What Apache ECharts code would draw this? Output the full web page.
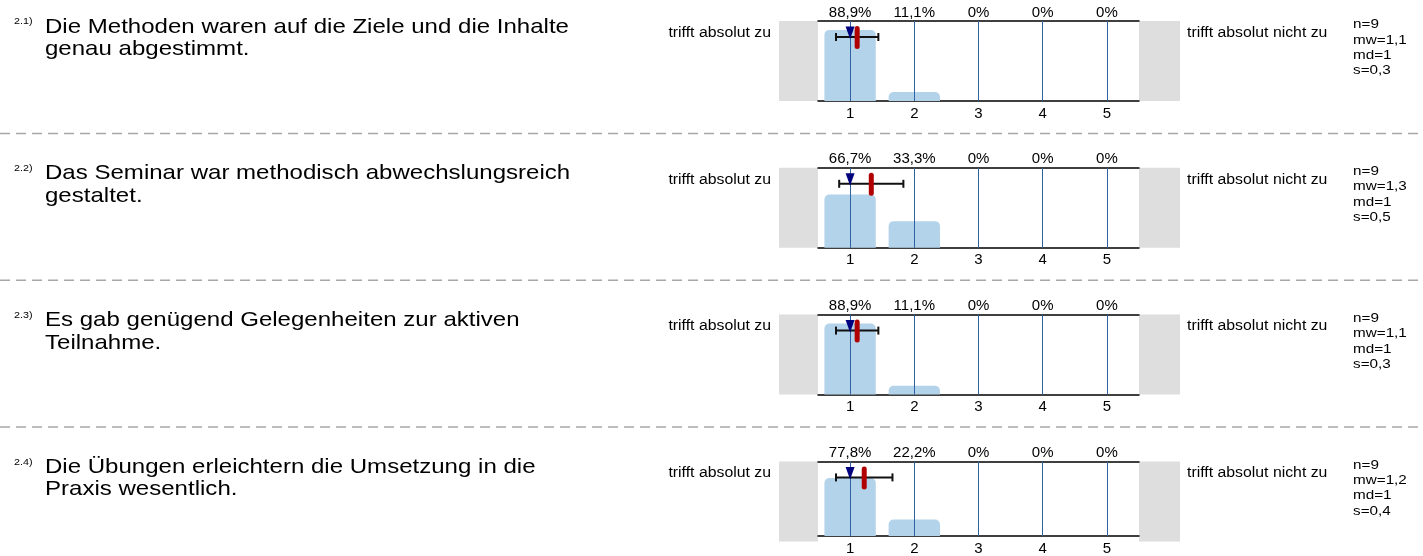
<!DOCTYPE html>
<html>
<head>
<meta charset="utf-8">
<title>Methoden</title>
<script src="https://cdn.jsdelivr.net/npm/echarts@6/dist/echarts.min.js"></script>
<style>
  html, body { margin: 0; padding: 0; background: #fff; }
  #chart { width: 1423px; height: 556px; }
</style>
</head>
<body>
<div id="chart"></div>
<script>
// --- data ---
var questionNumbers = ['2.1)', '2.2)', '2.3)', '2.4)'];
var questions = [
    'Die Methoden waren auf die Ziele und die Inhalte\ngenau abgestimmt.',
    'Das Seminar war methodisch abwechslungsreich\ngestaltet.',
    'Es gab genügend Gelegenheiten zur aktiven\nTeilnahme.',
    'Die Übungen erleichtern die Umsetzung in die\nPraxis wesentlich.'
];
var scaleCategories = ['1', '2', '3', '4', '5'];
var shares = [
    [88.9, 11.1, 0, 0, 0],
    [66.7, 33.3, 0, 0, 0],
    [88.9, 11.1, 0, 0, 0],
    [77.8, 22.2, 0, 0, 0]
];
var nValues = [9, 9, 9, 9];
var means = [1.11, 1.33, 1.11, 1.22];
var medians = [1, 1, 1, 1];
var sds = [0.33, 0.5, 0.33, 0.44];
var leftPole = 'trifft absolut zu';
var rightPole = 'trifft absolut nicht zu';

// --- layout ---
var FONT = '"Liberation Sans", Arial, sans-serif';
var STRETCH = 1.13;          // the original text is a bit wider than plain Arial
var ROW_PITCH = 146.8;
var PLOT_TOP = 21;
var PLOT_H = 80;
var PLOT_LEFT = 818;
var PLOT_W = 321;

function comma(v, digits) {
    return v.toFixed(digits).replace('.', ',');
}
function pctLabel(v) {
    return v === 0 ? '0%' : comma(v, 1) + '%';
}

var grids = [], xAxes = [], yAxes = [], series = [], graphics = [];

questions.forEach(function (q, i) {
    var top = PLOT_TOP + ROW_PITCH * i;
    grids.push({ left: PLOT_LEFT, top: top, width: PLOT_W, height: PLOT_H });

    // bottom axis: scale points
    xAxes.push({
        type: 'category', gridIndex: i, data: scaleCategories, position: 'bottom',
        axisLine: { lineStyle: { color: '#000', width: 1.5 } },
        axisTick: { show: false },
        axisLabel: { fontSize: 15, color: '#000', fontFamily: FONT, margin: 5 },
        splitLine: { show: false }
    });
    // top axis: percent per category
    xAxes.push({
        type: 'category', gridIndex: i, data: shares[i].map(pctLabel), position: 'top',
        axisLine: { lineStyle: { color: '#000', width: 1.5 } },
        axisTick: { show: false },
        axisLabel: { fontSize: 15, color: '#000', fontFamily: FONT, margin: 1 },
        splitLine: { show: false }
    });
    // hidden value axis for mean / sd / median
    xAxes.push({ type: 'value', gridIndex: i, min: 0.5, max: 5.5, show: false });
    yAxes.push({ type: 'value', gridIndex: i, min: 0, max: 100, show: false });

    series.push({
        type: 'bar', xAxisIndex: 3 * i, yAxisIndex: i,
        data: shares[i], barWidth: '80%', z: 2,
        itemStyle: { color: '#b3d3ea', borderRadius: [5, 5, 0, 0] },
        emphasis: { disabled: true },
        markLine: {
            silent: true, symbol: ['none', 'none'], label: { show: false },
            lineStyle: { color: '#2e62a0', width: 1, type: 'solid' },
            emphasis: { disabled: true },
            data: scaleCategories.map(function (c, k) { return { xAxis: k }; })
        }
    });

    series.push({
        type: 'custom', xAxisIndex: 3 * i + 2, yAxisIndex: i, z: 6, silent: true,
        data: [[means[i], sds[i], medians[i]]],
        renderItem: function (params, api) {
            var mean = api.value(0), sd = api.value(1), med = api.value(2);
            var t = params.coordSys.y;
            var xl = api.coord([mean - sd, 0])[0];
            var xr = api.coord([mean + sd, 0])[0];
            var xm = api.coord([mean, 0])[0];
            var xd = api.coord([med, 0])[0];
            var yb = t + 16;
            var black = { stroke: '#111', lineWidth: 2 };
            return {
                type: 'group',
                children: [
                    { type: 'line', shape: { x1: xl, y1: yb, x2: xr, y2: yb }, style: black },
                    { type: 'line', shape: { x1: xl, y1: yb - 4, x2: xl, y2: yb + 4 }, style: black },
                    { type: 'line', shape: { x1: xr, y1: yb - 4, x2: xr, y2: yb + 4 }, style: black },
                    { type: 'polygon', shape: { points: [[xd - 4.5, t + 5.5], [xd + 4.5, t + 5.5], [xd, t + 18]] },
                      style: { fill: '#00007f' } },
                    { type: 'line', shape: { x1: xm, y1: t + 7.5, x2: xm, y2: t + 25.5 },
                      style: { stroke: '#b00000', lineWidth: 5, lineCap: 'round' } }
                ]
            };
        }
    });

    // grey end boxes
    graphics.push({ type: 'rect', shape: { x: 779, y: top, width: PLOT_LEFT - 779, height: PLOT_H },
        style: { fill: '#dedede' }, silent: true });
    graphics.push({ type: 'rect', shape: { x: PLOT_LEFT + PLOT_W, y: top, width: 41, height: PLOT_H },
        style: { fill: '#dedede' }, silent: true });

    // pole labels
    graphics.push({ type: 'text', x: 771, y: top + 12, scaleX: STRETCH, silent: true,
        style: { text: leftPole, fill: '#000', font: '14px ' + FONT, align: 'right', verticalAlign: 'middle' } });
    graphics.push({ type: 'text', x: 1187, y: top + 12, scaleX: STRETCH, silent: true,
        style: { text: rightPole, fill: '#000', font: '14px ' + FONT, align: 'left', verticalAlign: 'middle' } });

    // statistics
    graphics.push({ type: 'text', x: 1353, y: top - 4, scaleX: STRETCH, silent: true,
        style: {
            text: '{a|n=' + nValues[i] + '}\n{b|mw=' + comma(means[i], 1) + '}\n{c|md=' + medians[i] +
                  '}\n{a|s=' + comma(sds[i], 1) + '}',
            verticalAlign: 'top', align: 'left',
            rich: {
                a: { fontSize: 13.5, fontFamily: FONT, color: '#000', lineHeight: 15.3 },
                b: { fontSize: 13.5, fontFamily: FONT, color: '#9b1111', lineHeight: 15.3 },
                c: { fontSize: 13.5, fontFamily: FONT, color: '#1c1c9c', lineHeight: 15.3 }
            }
        } });

    // question
    graphics.push({ type: 'text', x: 14, y: top - 4.5, scaleX: STRETCH, silent: true,
        style: { text: questionNumbers[i], fill: '#000', font: '9.5px ' + FONT, verticalAlign: 'top' } });
    graphics.push({ type: 'text', x: 45, y: top - 5.5, scaleX: 1.145, silent: true,
        style: { text: q, fill: '#000', fontSize: 21, fontFamily: FONT, lineHeight: 22.5, verticalAlign: 'top' } });

    // separator
    if (i < questions.length - 1) {
        var sy = 133.5 + ROW_PITCH * i;
        graphics.push({ type: 'line', silent: true, shape: { x1: 0, y1: sy, x2: 1423, y2: sy },
            style: { stroke: '#a8a8a8', lineWidth: 1.5, lineDash: [10, 6] } });
    }
});

var chart = echarts.init(document.getElementById('chart'), null, { renderer: 'canvas' });
chart.setOption({
    animation: false,
    backgroundColor: '#fff',
    grid: grids,
    xAxis: xAxes,
    yAxis: yAxes,
    series: series,
    graphic: { elements: graphics }
});
</script>
</body>
</html>
